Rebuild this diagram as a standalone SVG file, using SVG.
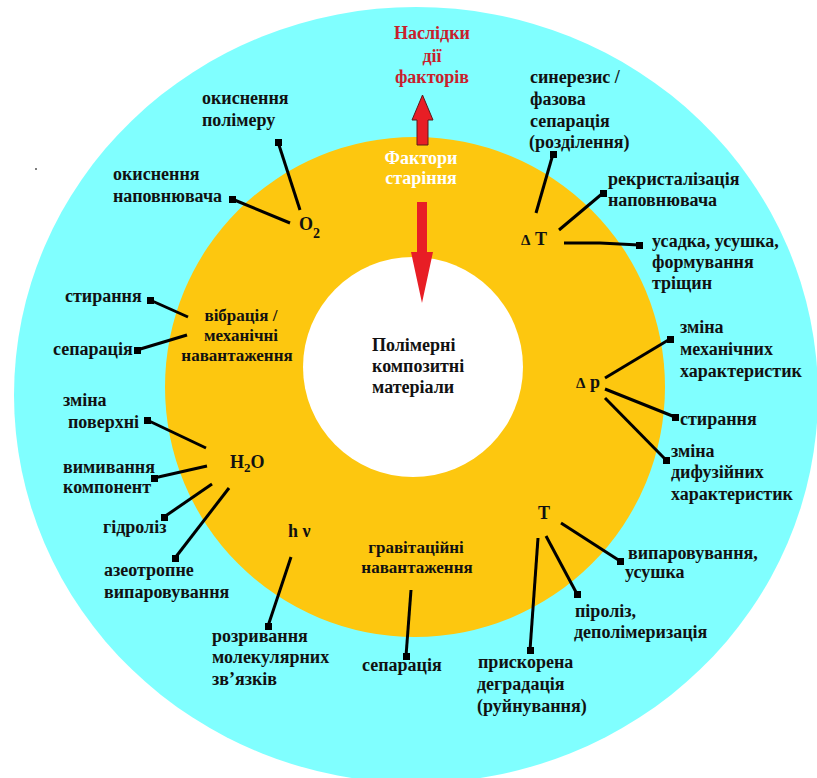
<svg xmlns="http://www.w3.org/2000/svg" width="817" height="778" viewBox="0 0 817 778">
<style>
.t{font-family:"Liberation Serif","Times New Roman",serif;font-weight:bold;font-size:18px;fill:#111}
.s{font-size:17px}
.red{fill:#C8202C}
.wh{fill:#FFFFFF}
.c{stroke:#000;stroke-width:3;fill:none;stroke-linecap:butt}
.sq{fill:#000}
</style>
<rect x="0" y="0" width="817" height="778" fill="#FFFFFF"/>
<g id="rings">
<ellipse cx="416" cy="395" rx="402" ry="388" fill="#80FFFF"/>
<circle cx="415" cy="387" r="250" fill="#FDC70F"/>
<circle cx="413" cy="367" r="110" fill="#FFFFFF"/>
<circle cx="36" cy="169" r="1" fill="#555"/>
</g>
<g id="arrows">
<path d="M417,145 L417,120 L412,120 L422.5,95 L433,120 L428,120 L428,145 Z" fill="#E81E25" stroke="#5a1a1a" stroke-width="1"/>
<path d="M417,202 L427,202 L427,252 L433,252 L422,303 L411,252 L417,252 Z" fill="#E81E25"/>
</g>
<g id="connectors">
<path class="c" d="M300,210 L278,142"/>
<path class="c" d="M290,223 L232,199"/>
<path class="c" d="M536,213 L553,154"/>
<path class="c" d="M559,230 L603,193"/>
<path class="c" d="M564,243 L600,243 L639,245"/>
<path class="c" d="M605,378 L670,339"/>
<path class="c" d="M605,389 L675,417"/>
<path class="c" d="M605,398 L666,460"/>
<path class="c" d="M561,523 L620,561"/>
<path class="c" d="M546,536 L577,594"/>
<path class="c" d="M538,538 L530,650"/>
<path class="c" d="M411,590 L406,656"/>
<path class="c" d="M291,557 L268,626"/>
<path class="c" d="M188,317 L150,300"/>
<path class="c" d="M187,335 L137,350"/>
<path class="c" d="M206,448 L147,420"/>
<path class="c" d="M207,466 L154,478"/>
<path class="c" d="M212,484 L164,517"/>
<path class="c" d="M229,488 L175,558"/>
</g>
<g id="ends">
<rect class="sq" x="275" y="139" width="7" height="7"/>
<rect class="sq" x="229" y="196" width="7" height="7"/>
<rect class="sq" x="550" y="151" width="7" height="7"/>
<rect class="sq" x="600" y="190" width="7" height="7"/>
<rect class="sq" x="636" y="242" width="7" height="7"/>
<rect class="sq" x="667" y="336" width="7" height="7"/>
<rect class="sq" x="672" y="414" width="7" height="7"/>
<rect class="sq" x="663" y="457" width="7" height="7"/>
<rect class="sq" x="617" y="558" width="7" height="7"/>
<rect class="sq" x="574" y="591" width="7" height="7"/>
<rect class="sq" x="527" y="647" width="7" height="7"/>
<rect class="sq" x="403" y="653" width="7" height="7"/>
<rect class="sq" x="265" y="623" width="7" height="7"/>
<rect class="sq" x="147" y="297" width="7" height="7"/>
<rect class="sq" x="134" y="347" width="7" height="7"/>
<rect class="sq" x="144" y="417" width="7" height="7"/>
<rect class="sq" x="151" y="475" width="7" height="7"/>
<rect class="sq" x="161" y="514" width="7" height="7"/>
<rect class="sq" x="172" y="555" width="7" height="7"/>
</g>
<g id="title-effects"><text class="t red" text-anchor="middle"><tspan x="432" y="39">Наслідки</tspan><tspan x="432" y="62">дії</tspan><tspan x="432" y="83">факторів</tspan></text></g>
<g id="title-factors"><text class="t wh" text-anchor="middle"><tspan x="421" y="164">Фактори</tspan><tspan x="421" y="184">старіння</tspan></text></g>
<g id="center"><text class="t"><tspan x="372" y="351">Полімерні</tspan><tspan x="372" y="372">композитні</tspan><tspan x="372" y="393">матеріали</tspan></text></g>
<g id="f-o2"><text class="t" x="299" y="230" font-size="20">O<tspan font-size="14" dy="8">2</tspan></text></g>
<g id="r-ox-pol"><text class="t"><tspan x="202" y="104">окиснення</tspan><tspan x="202" y="126">полімеру</tspan></text></g>
<g id="r-ox-fill"><text class="t"><tspan x="113" y="180">окиснення</tspan><tspan x="113" y="202">наповнювача</tspan></text></g>
<g id="f-dT"><text class="t" x="521" y="245"><tspan font-size="15">Δ</tspan> T</text></g>
<g id="r-syn"><text class="t"><tspan x="530" y="83">синерезис /</tspan><tspan x="530" y="105">фазова</tspan><tspan x="530" y="127">сепарація</tspan><tspan x="529" y="148">(розділення)</tspan></text></g>
<g id="r-recr"><text class="t"><tspan x="608" y="185">рекристалізація</tspan><tspan x="608" y="206">наповнювача</tspan></text></g>
<g id="r-shr"><text class="t"><tspan x="652" y="247">усадка, усушка,</tspan><tspan x="652" y="268">формування</tspan><tspan x="652" y="289">тріщин</tspan></text></g>
<g id="f-dp"><text class="t" x="576" y="388"><tspan font-size="15">Δ</tspan> p</text></g>
<g id="r-mech"><text class="t"><tspan x="680" y="333">зміна</tspan><tspan x="680" y="355">механічних</tspan><tspan x="680" y="377">характеристик</tspan></text></g>
<g id="r-abr2"><text class="t" x="680" y="425">стирання</text></g>
<g id="r-diff"><text class="t"><tspan x="671" y="457">зміна</tspan><tspan x="671" y="478">дифузійних</tspan><tspan x="671" y="500">характеристик</tspan></text></g>
<g id="f-T"><text class="t" x="538" y="519">T</text></g>
<g id="r-evap"><text class="t"><tspan x="628" y="559">випаровування,</tspan><tspan x="625" y="578">усушка</tspan></text></g>
<g id="r-pyr"><text class="t"><tspan x="575" y="617">піроліз,</tspan><tspan x="574" y="638">деполімеризація</tspan></text></g>
<g id="r-degr"><text class="t"><tspan x="478" y="668">прискорена</tspan><tspan x="477" y="690">деградація</tspan><tspan x="477" y="712">(руйнування)</tspan></text></g>
<g id="f-grav"><text class="t s" text-anchor="middle"><tspan x="416" y="553">гравітаційні</tspan><tspan x="417" y="573">навантаження</tspan></text></g>
<g id="r-sep2"><text class="t" x="362" y="671">сепарація</text></g>
<g id="f-hv"><text class="t" x="288" y="537">h ν</text></g>
<g id="r-break"><text class="t"><tspan x="212" y="642">розривання</tspan><tspan x="212" y="663">молекулярних</tspan><tspan x="212" y="685">зв’язків</tspan></text></g>
<g id="f-vib"><text class="t s" text-anchor="middle"><tspan x="241" y="321">вібрація /</tspan><tspan x="241" y="341">механічні</tspan><tspan x="237" y="361">навантаження</tspan></text></g>
<g id="r-abr1"><text class="t" x="65" y="302">стирання</text></g>
<g id="r-sep1"><text class="t" x="53" y="355">сепарація</text></g>
<g id="f-h2o"><text class="t" x="230" y="468">H<tspan font-size="13" dy="4">2</tspan><tspan dy="-4">O</tspan></text></g>
<g id="r-surf"><text class="t"><tspan x="63" y="406">зміна</tspan><tspan x="68" y="428">поверхні</tspan></text></g>
<g id="r-leach"><text class="t"><tspan x="63" y="473">вимивання</tspan><tspan x="63" y="493">компонент</tspan></text></g>
<g id="r-hydro"><text class="t" x="103" y="533">гідроліз</text></g>
<g id="r-azeo"><text class="t"><tspan x="104" y="576">азеотропне</tspan><tspan x="104" y="598">випаровування</tspan></text></g>
</svg>
